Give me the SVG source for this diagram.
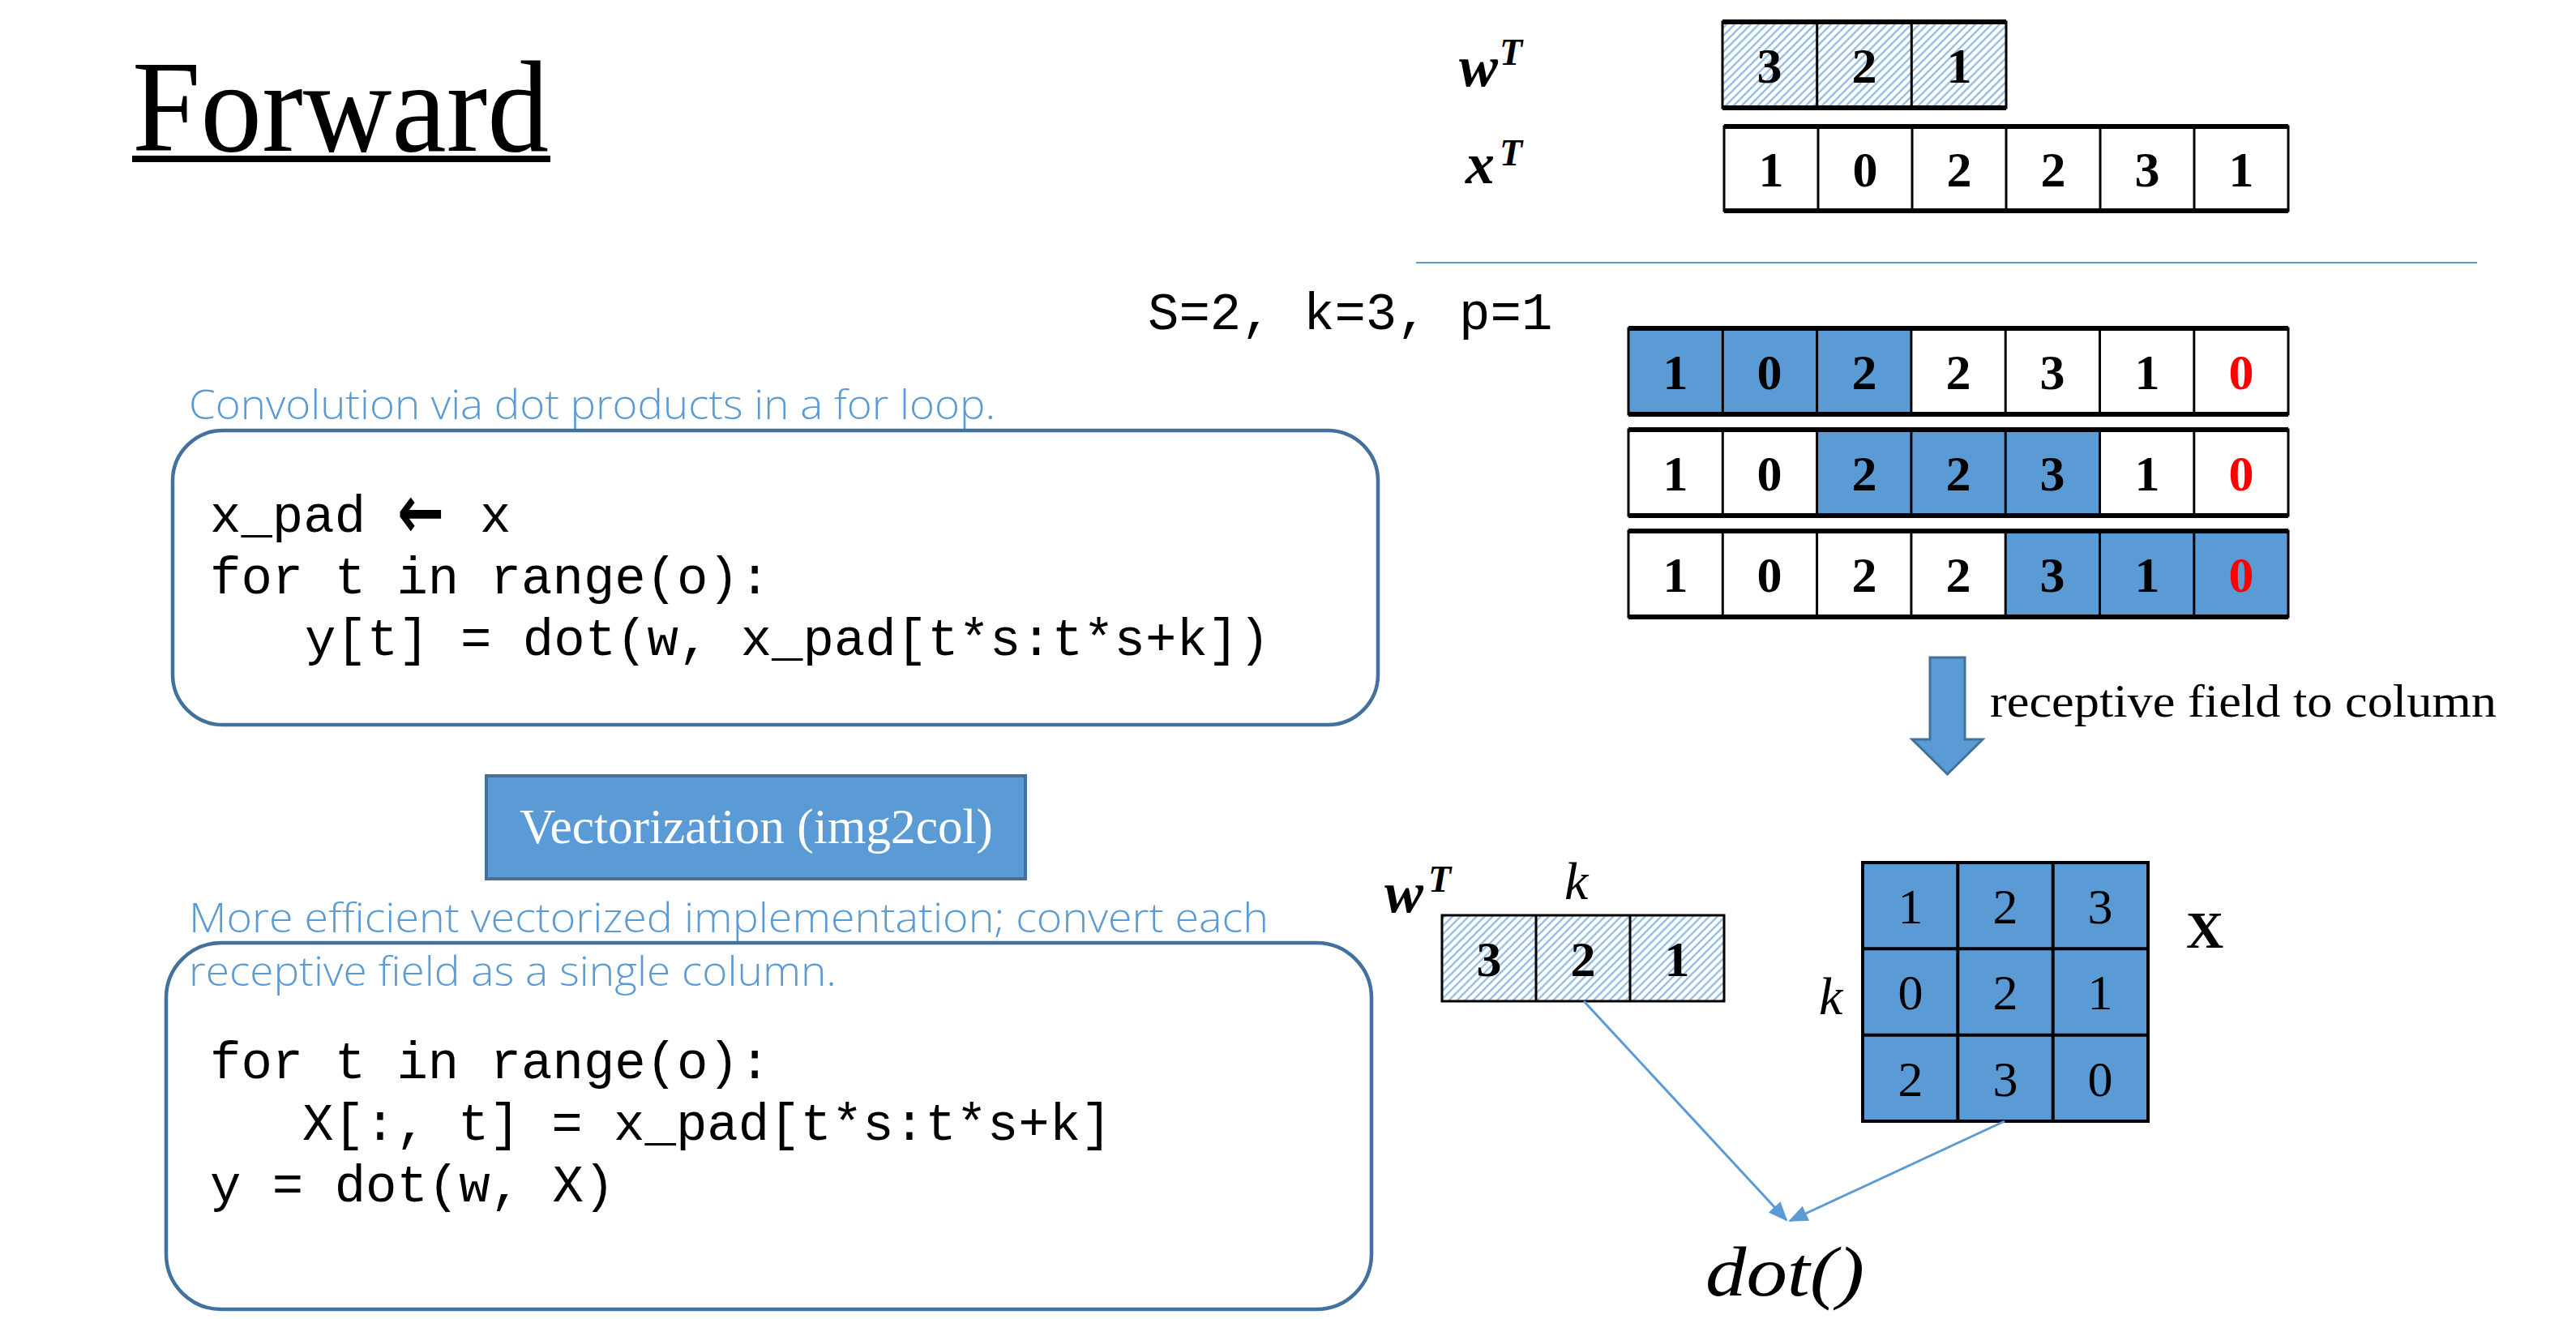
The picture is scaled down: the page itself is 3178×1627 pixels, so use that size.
<svg xmlns="http://www.w3.org/2000/svg" width="3178" height="1627" viewBox="0 0 3178 1627">
<style>
.serif{font-family:"Liberation Serif","Times New Roman",serif}
.mono{font-family:"Liberation Mono","Courier New",monospace;font-size:64px;fill:#000}
.hand{font-family:"Open Sans","Liberation Sans",sans-serif;font-weight:300;fill:#5b9bd5}
.dig{font-family:"Liberation Serif",serif;font-weight:bold;font-size:62px;text-anchor:middle;fill:#000}
.digr{font-family:"Liberation Serif",serif;font-size:62px;text-anchor:middle;fill:#000}
.red{fill:#ff0000}
.cell{stroke:#000;stroke-width:3}
.blue{fill:#5b9bd5}
.white{fill:#fff}
.hatch{fill:url(#hatch)}
.thick{stroke:#000;stroke-width:6}
.codebox{fill:none;stroke:#41719c;stroke-width:4.5}
.conn{stroke:#5b9bd5;stroke-width:3;fill:none}
.lbl{font-family:"Liberation Serif",serif;font-weight:bold;font-style:italic;fill:#000}
</style>
<defs>
<pattern id="hatch" patternUnits="userSpaceOnUse" width="7" height="7" patternTransform="rotate(45)">
<rect width="7" height="7" fill="#fff"/>
<line x1="1.5" y1="0" x2="1.5" y2="7" stroke="#7fb0de" stroke-width="2"/>
</pattern>
<marker id="ah" markerWidth="24" markerHeight="20" refX="22" refY="10" orient="auto" markerUnits="userSpaceOnUse" viewBox="0 0 24 20">
<path d="M0,0 L24,10 L0,20 z" fill="#5b9bd5"/>
</marker>
</defs>
<rect width="3178" height="1627" fill="#fff"/>

<g id="title">
<text class="serif" x="163" y="186" font-size="160" textLength="514" lengthAdjust="spacingAndGlyphs">Forward</text>
<rect x="163" y="192" width="516" height="8" fill="#000"/>
</g>

<g id="wT-top">
<text class="lbl" x="1800" y="106" font-size="72">w</text>
<text class="lbl" x="1850" y="80" font-size="46">T</text>
<rect class="hatch cell" x="2125" y="27" width="350" height="106"/>
<line class="cell" x1="2241.7" y1="27" x2="2241.7" y2="133"/>
<line class="cell" x1="2358.3" y1="27" x2="2358.3" y2="133"/>
<line class="thick" x1="2125" y1="27" x2="2475" y2="27"/>
<line class="thick" x1="2125" y1="133" x2="2475" y2="133"/>
<text class="dig" x="2183" y="102">3</text>
<text class="dig" x="2300" y="102">2</text>
<text class="dig" x="2417" y="102">1</text>
</g>

<g id="xT-top">
<text class="lbl" x="1808" y="226" font-size="72">x</text>
<text class="lbl" x="1850" y="204" font-size="46">T</text>
<rect class="white cell" x="2127" y="156" width="696" height="104"/>
<line class="cell" x1="2243" y1="156" x2="2243" y2="260"/>
<line class="cell" x1="2359" y1="156" x2="2359" y2="260"/>
<line class="cell" x1="2475" y1="156" x2="2475" y2="260"/>
<line class="cell" x1="2591" y1="156" x2="2591" y2="260"/>
<line class="cell" x1="2707" y1="156" x2="2707" y2="260"/>
<line class="thick" x1="2127" y1="156" x2="2823" y2="156"/>
<line class="thick" x1="2127" y1="260" x2="2823" y2="260"/>
<text class="dig" x="2185" y="230">1</text>
<text class="dig" x="2301" y="230">0</text>
<text class="dig" x="2417" y="230">2</text>
<text class="dig" x="2533" y="230">2</text>
<text class="dig" x="2649" y="230">3</text>
<text class="dig" x="2765" y="230">1</text>
</g>

<g id="divider">
<line x1="1747" y1="324" x2="3056" y2="324" stroke="#5b9bd5" stroke-width="2"/>
</g>

<g id="params">
<text class="mono" x="1416" y="406">S=2, k=3, p=1</text>
</g>

<g id="row1">
<rect class="white" x="2009" y="405" width="814" height="106"/>
<rect class="blue" x="2009" y="405" width="349" height="106"/>
<rect class="cell" fill="none" x="2009" y="405" width="814" height="106"/>
<g class="cell"><line x1="2125.3" y1="405" x2="2125.3" y2="511"/><line x1="2241.6" y1="405" x2="2241.6" y2="511"/><line x1="2357.9" y1="405" x2="2357.9" y2="511"/><line x1="2474.2" y1="405" x2="2474.2" y2="511"/><line x1="2590.5" y1="405" x2="2590.5" y2="511"/><line x1="2706.8" y1="405" x2="2706.8" y2="511"/></g>
<line class="thick" x1="2009" y1="405" x2="2823" y2="405"/><line class="thick" x1="2009" y1="511" x2="2823" y2="511"/>
<text class="dig" x="2067" y="480">1</text><text class="dig" x="2183" y="480">0</text><text class="dig" x="2300" y="480">2</text><text class="dig" x="2416" y="480">2</text><text class="dig" x="2532" y="480">3</text><text class="dig" x="2649" y="480">1</text><text class="dig red" x="2765" y="480">0</text>
</g>

<g id="row2">
<rect class="white" x="2009" y="530" width="814" height="106"/>
<rect class="blue" x="2241.6" y="530" width="349" height="106"/>
<rect class="cell" fill="none" x="2009" y="530" width="814" height="106"/>
<g class="cell"><line x1="2125.3" y1="530" x2="2125.3" y2="636"/><line x1="2241.6" y1="530" x2="2241.6" y2="636"/><line x1="2357.9" y1="530" x2="2357.9" y2="636"/><line x1="2474.2" y1="530" x2="2474.2" y2="636"/><line x1="2590.5" y1="530" x2="2590.5" y2="636"/><line x1="2706.8" y1="530" x2="2706.8" y2="636"/></g>
<line class="thick" x1="2009" y1="530" x2="2823" y2="530"/><line class="thick" x1="2009" y1="636" x2="2823" y2="636"/>
<text class="dig" x="2067" y="605">1</text><text class="dig" x="2183" y="605">0</text><text class="dig" x="2300" y="605">2</text><text class="dig" x="2416" y="605">2</text><text class="dig" x="2532" y="605">3</text><text class="dig" x="2649" y="605">1</text><text class="dig red" x="2765" y="605">0</text>
</g>

<g id="row3">
<rect class="white" x="2009" y="655" width="814" height="106"/>
<rect class="blue" x="2474.2" y="655" width="348.8" height="106"/>
<rect class="cell" fill="none" x="2009" y="655" width="814" height="106"/>
<g class="cell"><line x1="2125.3" y1="655" x2="2125.3" y2="761"/><line x1="2241.6" y1="655" x2="2241.6" y2="761"/><line x1="2357.9" y1="655" x2="2357.9" y2="761"/><line x1="2474.2" y1="655" x2="2474.2" y2="761"/><line x1="2590.5" y1="655" x2="2590.5" y2="761"/><line x1="2706.8" y1="655" x2="2706.8" y2="761"/></g>
<line class="thick" x1="2009" y1="655" x2="2823" y2="655"/><line class="thick" x1="2009" y1="761" x2="2823" y2="761"/>
<text class="dig" x="2067" y="730">1</text><text class="dig" x="2183" y="730">0</text><text class="dig" x="2300" y="730">2</text><text class="dig" x="2416" y="730">2</text><text class="dig" x="2532" y="730">3</text><text class="dig" x="2649" y="730">1</text><text class="dig red" x="2765" y="730">0</text>
</g>

<g id="down-arrow">
<path d="M2381,811 L2424,811 L2424,912 L2446,912 L2402.5,955 L2359,912 L2381,912 Z" fill="#5b9bd5" stroke="#41719c" stroke-width="3"/>
<text class="serif" x="2455" y="884" font-size="58" textLength="625" lengthAdjust="spacingAndGlyphs">receptive field to column</text>
</g>

<g id="loop-caption">
<text class="hand" x="233" y="517" font-size="50" textLength="995" lengthAdjust="spacingAndGlyphs">Convolution via dot products in a for loop.</text>
</g>

<g id="loop-code">
<rect class="codebox" x="213" y="531" width="1487" height="363" rx="62" ry="62"/>
<text class="mono" x="259" y="656">x_pad</text>
<text x="490" y="663" font-family="DejaVu Sans,sans-serif" font-weight="bold" font-size="92" textLength="58" lengthAdjust="spacingAndGlyphs">←</text>
<text class="mono" x="592" y="656">x</text>
<text class="mono" x="259" y="732">for t in range(o):</text>
<text class="mono" x="376" y="808">y[t] = dot(w, x_pad[t*s:t*s+k])</text>
</g>

<g id="vectorization">
<rect x="600" y="957" width="665" height="127" fill="#5b9bd5" stroke="#41719c" stroke-width="4"/>
<text class="serif" x="641" y="1040" font-size="62" fill="#fff" textLength="584" lengthAdjust="spacingAndGlyphs">Vectorization (img2col)</text>
</g>

<g id="vec-caption">
<text class="hand" x="233" y="1150" font-size="50" textLength="1332" lengthAdjust="spacingAndGlyphs">More efficient vectorized implementation; convert each</text>
<text class="hand" x="233" y="1216" font-size="50" textLength="799" lengthAdjust="spacingAndGlyphs">receptive field as a single column.</text>
</g>

<g id="vec-code">
<rect class="codebox" x="205" y="1163" width="1487" height="452" rx="68" ry="68"/>
<text class="mono" x="259" y="1330">for t in range(o):</text>
<text class="mono" x="373" y="1406">X[:, t] = x_pad[t*s:t*s+k]</text>
<text class="mono" x="259" y="1482">y = dot(w, X)</text>
</g>

<g id="wT-bottom">
<text class="lbl" x="1708" y="1125" font-size="72">w</text>
<text class="lbl" x="1762" y="1100" font-size="46">T</text>
<text class="serif" x="1930" y="1109" font-size="66" font-style="italic">k</text>
<rect class="hatch cell" x="1779" y="1129" width="348" height="106"/>
<line class="cell" x1="1895" y1="1129" x2="1895" y2="1235"/>
<line class="cell" x1="2011" y1="1129" x2="2011" y2="1235"/>
<text class="dig" x="1837" y="1204">3</text>
<text class="dig" x="1953" y="1204">2</text>
<text class="dig" x="2069" y="1204">1</text>
</g>

<g id="X-matrix">
<rect x="2298" y="1064" width="352" height="319" fill="#5b9bd5" stroke="#000" stroke-width="4"/>
<g stroke="#000" stroke-width="4">
<line x1="2415.3" y1="1064" x2="2415.3" y2="1383"/><line x1="2532.7" y1="1064" x2="2532.7" y2="1383"/>
<line x1="2298" y1="1170.3" x2="2650" y2="1170.3"/><line x1="2298" y1="1276.7" x2="2650" y2="1276.7"/>
</g>
<text class="digr" x="2357" y="1139">1</text><text class="digr" x="2474" y="1139">2</text><text class="digr" x="2591" y="1139">3</text>
<text class="digr" x="2357" y="1245">0</text><text class="digr" x="2474" y="1245">2</text><text class="digr" x="2591" y="1245">1</text>
<text class="digr" x="2357" y="1352">2</text><text class="digr" x="2474" y="1352">3</text><text class="digr" x="2591" y="1352">0</text>
<text class="serif" x="2697" y="1169" font-size="64" font-weight="bold">X</text>
<text class="serif" x="2244" y="1251" font-size="66" font-style="italic">k</text>
</g>

<g id="dot">
<text class="serif" x="2104" y="1598" font-size="86" font-style="italic" textLength="196" lengthAdjust="spacingAndGlyphs">dot()</text>
</g>

<g id="connectors">
<line class="conn" x1="1954" y1="1235" x2="2204" y2="1505" marker-end="url(#ah)"/>
<line class="conn" x1="2473" y1="1383" x2="2208" y2="1506" marker-end="url(#ah)"/>
</g>
</svg>
